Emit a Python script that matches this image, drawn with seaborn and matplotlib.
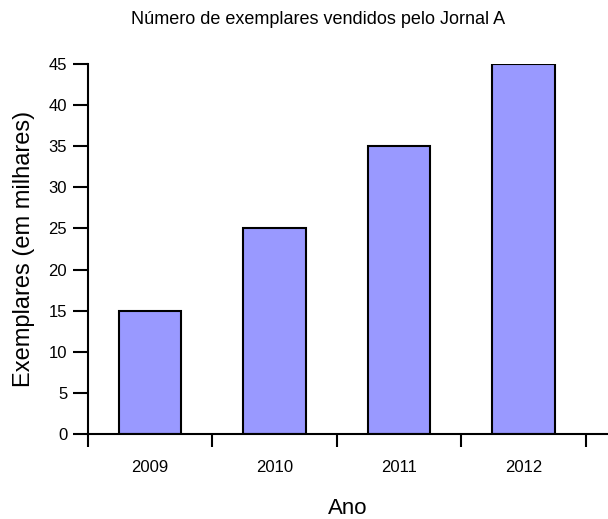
import matplotlib
matplotlib.use("Agg")
import matplotlib.pyplot as plt
import seaborn as sns
import pandas as pd

# values
anos = ["2009", "2010", "2011", "2012"]
exemplares = [15, 25, 35, 45]

sns.set_style("ticks")
plt.rcParams["font.family"] = ["Liberation Sans", "DejaVu Sans"]
plt.rcParams.update({"text.color": "black", "axes.labelcolor": "black",
                     "xtick.color": "black", "ytick.color": "black",
                     "axes.edgecolor": "black"})

df = pd.DataFrame({"Ano": anos, "Exemplares": exemplares})

fig = plt.figure(figsize=(6.08, 5.19), dpi=100)
ax = fig.add_axes([0.1447, 0.1638, 0.8553, 0.7129])

sns.barplot(data=df, x="Ano", y="Exemplares", color="#9999ff", saturation=1,
            edgecolor="black", linewidth=1.5, width=0.5, ax=ax)

ax.set_xlim(-0.5, 3.68)
ax.set_ylim(0, 45)
ax.set_yticks(range(0, 50, 5))
ax.set_xticks(range(len(anos)))
ax.set_xticklabels(anos, fontsize=12)
ax.tick_params(axis="x", which="major", length=0, pad=19)
ax.set_xticks([i - 0.5 for i in range(len(anos) + 1)], minor=True)
ax.tick_params(axis="x", which="minor", length=9, width=1.5, direction="out")
ax.tick_params(axis="y", length=11, width=1.5, labelsize=12, pad=4)

for s in ["top", "right"]:
    ax.spines[s].set_visible(False)
for s in ["left", "bottom"]:
    ax.spines[s].set_linewidth(1.5)

ax.set_xlabel("Ano", fontsize=16, labelpad=16)
ax.set_ylabel("Exemplares (em milhares)", fontsize=17, labelpad=10)

fig.text(0.523, 0.963, "Número de exemplares vendidos pelo Jornal A",
         ha="center", va="center", fontsize=13)

fig.savefig("out.png", dpi=100)
